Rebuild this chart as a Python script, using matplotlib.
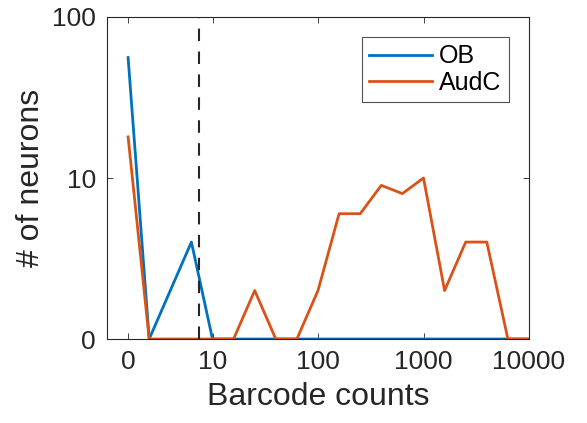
import numpy as np
import matplotlib.pyplot as plt

plt.rcParams['font.family'] = ['Liberation Sans', 'DejaVu Sans']

# neuron counts per barcode-count bin (5 bins per decade)
ob_counts = [55, 0, 1, 3, 0, 0, 0, 0, 0, 0, 0, 0, 0, 0, 0, 0, 0, 0, 0, 0]
audc_counts = [17, 0, 0, 0, 0, 0, 1, 0, 0, 1, 5, 5, 8, 7, 9, 1, 3, 3, 0, 0]
xtick_pos = [0, 4, 9, 14, 19]
xtick_labels = ['0', '10', '100', '1000', '10000']
ytick_pos = [1, 10, 100]
ytick_labels = ['0', '10', '100']
threshold_bin = 3.36

idx = np.arange(len(ob_counts))
ob = np.array(ob_counts) + 1
audc = np.array(audc_counts) + 1

fig = plt.figure(figsize=(5.87, 4.23), dpi=100)
ax = fig.add_axes([107/587, 1 - 339/423, (529-107)/587, (339-17)/423])

ax.plot(idx, ob, color='#0072BD', lw=2, label='OB')
ax.plot(idx, audc, color='#D95319', lw=2, label='AudC')
ax.axvline(threshold_bin, color='#262626', lw=1.5, ls=(0, (6, 5)))

ax.set_yscale('log')
ax.set_ylim(1, 100)
ax.set_xlim(-1, 19)
ax.set_yticks(ytick_pos)
ax.set_yticklabels(ytick_labels)
ax.minorticks_off()
ax.set_xticks(xtick_pos)
ax.set_xticklabels(xtick_labels)

ax.tick_params(direction='in', top=True, right=True, labelsize=19,
               colors='#262626', length=4, width=0.6, pad=8)
for s in ax.spines.values():
    s.set_color('#262626')
    s.set_linewidth(0.8)

ax.set_xlabel('Barcode counts', fontsize=23, color='#262626', labelpad=6)
ax.set_ylabel('# of neurons', fontsize=23, color='#262626', labelpad=4)

leg = ax.legend(loc='upper right', bbox_to_anchor=(0.953, 0.938), fontsize=18,
                frameon=True, fancybox=False, handlelength=2.5,
                borderpad=0.3, labelspacing=0.1, handletextpad=0.3,
                borderaxespad=0)
leg.get_frame().set_edgecolor('#262626')
leg.get_frame().set_linewidth(0.8)

fig.savefig('out.png', dpi=100)
